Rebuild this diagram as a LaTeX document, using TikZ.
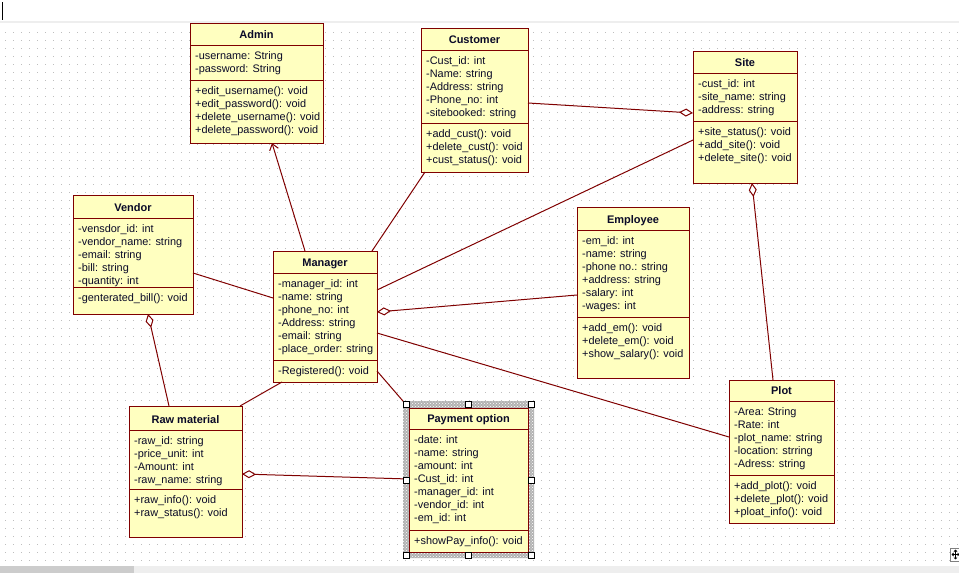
\documentclass[tikz,border=0pt]{standalone}
\usepackage{fontspec}
\setmainfont{Liberation Sans}
\usetikzlibrary{arrows.meta,patterns}

\definecolor{classfill}{RGB}{255,255,192}
\definecolor{classedge}{RGB}{128,0,0}
\definecolor{classink}{RGB}{10,10,40}
\definecolor{griddot}{RGB}{190,190,190}
\definecolor{barlight}{RGB}{238,238,238}
\definecolor{bardark}{RGB}{204,204,204}

\tikzset{
  classbox/.style={rectangle, draw=classedge, fill=classfill, line width=1pt,
    inner sep=0pt, outer sep=0pt},
  classrule/.style={draw=classedge, line width=1pt},
  classtitle/.style={font=\fontsize{11}{13}\selectfont\bfseries, text=classink, inner sep=0pt},
  classtext/.style={font=\fontsize{10.9}{13}\selectfont, text=classink, inner sep=0pt, align=left},
  assoc/.style={draw=classedge, line width=1pt},
  aggr/.style={assoc, arrows={Diamond[length=14pt,width=8pt,fill=white]-}},
  navig/.style={assoc, arrows={-Straight Barb[length=6pt,width=9pt]}},
  handle/.style={draw=black, fill=white, line width=0.8pt},
  gridrow/.style={draw=griddot, line width=1pt, dash pattern=on 1pt off 7pt},
}

% frame, compartments and title of a class: name, x1, y1, x2, y2, rule1, rule2, title
\newcommand\classframe[8]{%
  \node[classbox, minimum width={(#4)-(#2)}, minimum height={(#5)-(#3)},
        anchor=north west] (#1) at (#2,#3) {};
  \draw[classrule] (#2,#6) -- (#4,#6);
  \draw[classrule] (#2,#7) -- (#4,#7);
  \node[classtitle, anchor=base] (#1-title) at ({(#2+#4)/2},{#6-7}) {#8};
  \xdef\clsx{#2}\xdef\clsa{#6}\xdef\clsb{#7}%
}
% attribute and operation lists of the class drawn last
\newcommand\classbody[3]{%
  \node[classtext, anchor=north west] (#1-attrs) at (\clsx+5,\clsa+5.5) {\strut #2};
  \node[classtext, anchor=north west] (#1-ops) at (\clsx+5,\clsb+5.5) {\strut #3};
}

\begin{document}
\begin{tikzpicture}[x=1pt,y=-1pt]
\useasboundingbox (0,0) rectangle (959,573);
\fill[white] (0,0) rectangle (959,573);

% editor chrome
\fill[barlight] (0,21) rectangle (959,23);
\draw[line width=1.5pt] (2.5,2) -- (2.5,20);

% dotted grid, one dashed row per line of dots
\foreach \j in {0,...,66}
  \draw[gridrow] (5,32.5+8*\j) -- (959,32.5+8*\j);

% bottom scroll bar
\fill[barlight] (0,566) rectangle (959,573);
\fill[bardark] (0,566) rectangle (134,573);

% move handle
\draw[black!50, fill=white, line width=1pt] (950.5,548.5) rectangle (962,561);
\draw[line width=0.8pt, {Triangle[length=2pt,width=3.5pt]}-{Triangle[length=2pt,width=3.5pt]}] (951.5,554.5) -- (959.5,554.5);
\draw[line width=0.8pt, {Triangle[length=2pt,width=3.5pt]}-{Triangle[length=2pt,width=3.5pt]}] (955.5,549.5) -- (955.5,559.5);

% selection band around the payment class
\fill[black!30, even odd rule]
  (403,401) rectangle (534,558) (409,408) rectangle (528,552);
\fill[pattern=crosshatch dots, pattern color=white, even odd rule]
  (403,401) rectangle (534,558) (409,408) rectangle (528,552);

% classes
\classframe{admin}{190}{23}{323}{143}{45}{80}{Admin}
\classbody{admin}{-username: String\\-password: String}
  {+edit\_username(): void\\+edit\_password(): void\\+delete\_username(): void\\+delete\_password(): void}

\classframe{customer}{421}{28}{528}{172}{50}{123}{Customer}
\classbody{customer}{-Cust\_id: int\\-Name: string\\-Address: string\\-Phone\_no: int\\-sitebooked: string}
  {+add\_cust(): void\\+delete\_cust(): void\\+cust\_status(): void}

\classframe{site}{693}{51}{797}{183}{73}{121}{Site}
\classbody{site}{-cust\_id: int\\-site\_name: string\\-address: string}
  {+site\_status(): void\\+add\_site(): void\\+delete\_site(): void}

\classframe{vendor}{73}{195}{193}{314}{218}{287}{Vendor}
\classbody{vendor}{-vensdor\_id: int\\-vendor\_name: string\\-email: string\\-bill: string\\-quantity: int}
  {-genterated\_bill(): void}

\classframe{manager}{273}{251}{377}{382}{273}{360}{Manager}
\classbody{manager}{-manager\_id: int\\-name: string\\-phone\_no: int\\-Address: string\\-email: string\\-place\_order: string}
  {-Registered(): void}

\classframe{employee}{577}{207}{689}{378}{230}{317}{Employee}
\classbody{employee}{-em\_id: int\\-name: string\\-phone no.: string\\+address: string\\-salary: int\\-wages: int}
  {+add\_em(): void\\+delete\_em(): void\\+show\_salary(): void}

\classframe{raw}{129}{406}{242}{537}{430}{489}{Raw material}
\classbody{raw}{-raw\_id: string\\-price\_unit: int\\-Amount: int\\-raw\_name: string}
  {+raw\_info(): void\\+raw\_status(): void}

\classframe{payment}{409}{408}{528}{552}{429}{530}{Payment option}
\classbody{payment}{-date: int\\-name: string\\-amount: int\\-Cust\_id: int\\-manager\_id: int\\-vendor\_id: int\\-em\_id: int}
  {+showPay\_info(): void}

\classframe{plot}{729}{380}{834}{523}{401}{475}{Plot}
\classbody{plot}{-Area: String\\-Rate: int\\-plot\_name: string\\-location: strring\\-Adress: string}
  {+add\_plot(): void\\+delete\_plot(): void\\+ploat\_info(): void}

% relationships
\draw[navig] ([xshift=32pt]manager.north west) -- ([xshift=82pt]admin.south west);
\draw[assoc] ([xshift=-5pt]manager.north east) -- ([xshift=4pt]customer.south west);
\draw[assoc] ([yshift=-39pt]manager.north east) -- ([yshift=-89pt]site.north west);
\draw[aggr] ([yshift=-62pt]site.north west) -- ([yshift=-75pt]customer.north east);
\draw[assoc] ([yshift=-78pt]vendor.north east) -- ([yshift=-47pt]manager.north west);
\draw[aggr] ([yshift=-61pt]manager.north east) -- ([yshift=-88pt]employee.north west);
\draw[assoc] ([yshift=-82pt]manager.north east) -- ([yshift=-57pt]plot.north west);
\draw[assoc] ([xshift=9pt]manager.south west) -- ([xshift=-2pt]raw.north east);
\draw[assoc] ([yshift=-120pt]manager.north east) -- (payment.north west);
\draw[aggr] ([xshift=75pt]vendor.south west) -- ([xshift=40pt]raw.north west);
\draw[aggr] ([yshift=-68pt]raw.north east) -- ([yshift=-71pt]payment.north west);
\draw[aggr] ([xshift=59pt]site.south west) -- ([xshift=44pt]plot.north west);

% selection handles
\foreach \hx/\hy in {406/404, 468/404, 531/404, 406/480, 531/480, 406/555, 468/555, 531/555}
  \draw[handle] (\hx-3,\hy-3) rectangle (\hx+3,\hy+3);
\end{tikzpicture}
\end{document}
